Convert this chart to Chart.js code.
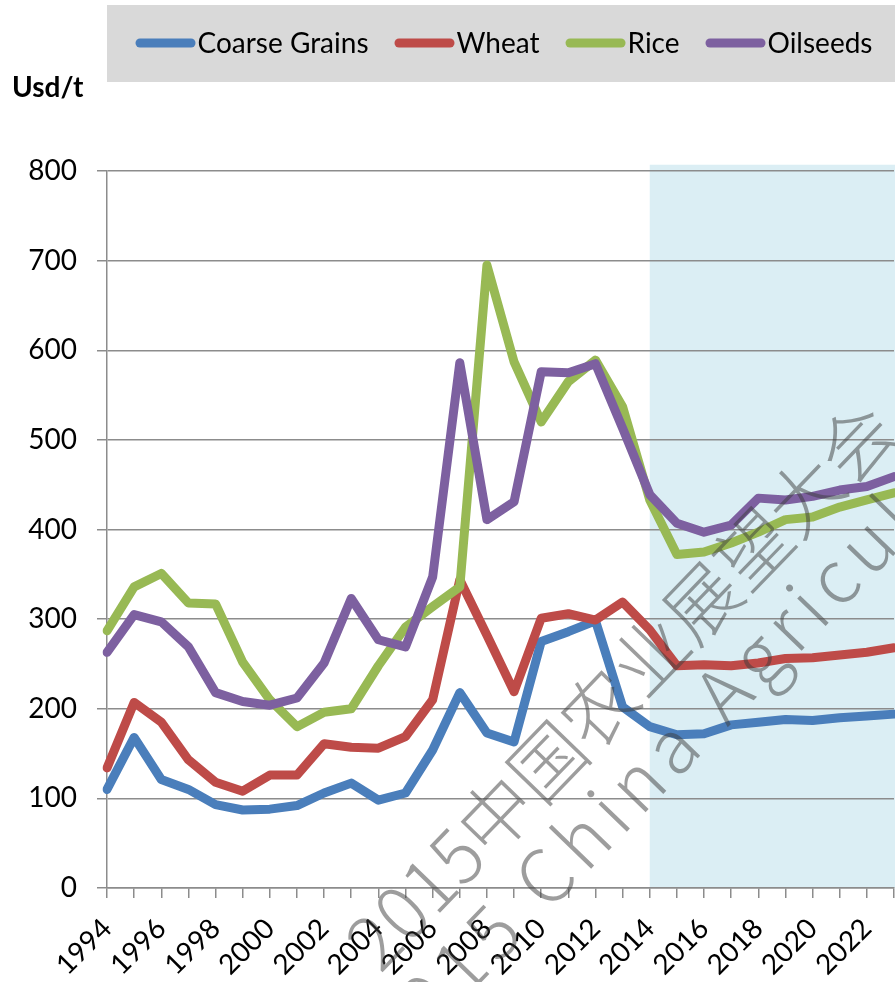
<!DOCTYPE html>
<html>
<head>
<meta charset="utf-8">
<script src="https://cdn.jsdelivr.net/npm/chart.js@4.4.1/dist/chart.umd.min.js"></script>
<style>
  html, body { margin: 0; padding: 0; background: #ffffff; }
  #wrap { width: 895px; height: 982px; position: relative; }
</style>
</head>
<body>
<div id="wrap"><canvas id="chart" width="895" height="982"></canvas></div>
<script>
// ---- data ----
const years = ['1994','1995','1996','1997','1998','1999','2000','2001','2002','2003',
               '2004','2005','2006','2007','2008','2009','2010','2011','2012','2013',
               '2014','2015','2016','2017','2018','2019','2020','2021','2022','2023'];
const coarseGrains = [110,168,121,110,93,87,88,92,106,117,98,106,154,218,173,163,275,286,298,202,180,171,172,182,185,188,187,190,192,194];
const wheat        = [134,207,185,143,118,108,126,126,161,157,156,169,210,344,282,219,301,306,299,319,288,248,249,248,251,256,257,260,263,268];
const rice         = [287,336,351,318,317,252,210,180,196,200,248,291,314,336,695,587,520,565,589,537,433,372,375,385,397,411,414,425,433,441];
const oilseeds     = [263,305,297,269,218,208,204,212,251,323,277,269,347,586,411,431,576,575,585,513,439,407,397,405,435,433,437,444,448,459];
const seriesNames  = ['Coarse Grains','Wheat','Rice','Oilseeds'];
const yUnit        = 'Usd/t';
const projectionStart = '2014';   // shaded outlook period starts here
const projectionTop   = 807;      // top of the shaded band (value units)
const watermarkLine1  = '2015中国农业展望大会';
const watermarkLine2  = '2015 China Agricultural Outlook Conference';

const FONT = 'Lato, "Open Sans", "Liberation Sans", sans-serif';
const AXIS = '#8c8c8c';
const colors = ['#4a7ebb', '#be4b48', '#98b954', '#7d60a0'];

const shadePlugin = {
  id: 'shade',
  beforeDraw(chart) {
    const {ctx, scales} = chart;
    const x0 = scales.x.getPixelForValue(years.indexOf(projectionStart));
    const yTop = scales.y.getPixelForValue(projectionTop);
    const yBot = scales.y.getPixelForValue(0);
    ctx.save();
    ctx.fillStyle = '#dbeef4';
    ctx.fillRect(x0, yTop, chart.width - x0, yBot - yTop);
    ctx.restore();
  }
};

const legendPlugin = {
  id: 'boxLegend',
  afterDraw(chart) {
    const {ctx} = chart;
    ctx.save();
    ctx.fillStyle = '#d9d9d9';
    ctx.fillRect(107, 5, chart.width - 107, 77);
    ctx.font = '28px ' + FONT;
    ctx.textBaseline = 'alphabetic';
    const sw = 60, gapText = 2, gapItem = 26;
    const ds = chart.data.datasets;
    let total = 0;
    ds.forEach((d, i) => {
      total += sw + gapText + ctx.measureText(d.label).width + (i < ds.length - 1 ? gapItem : 0);
    });
    let x = (107 + chart.width) / 2 - total / 2 + 3;
    const yMid = 43, base = 53;
    ds.forEach(d => {
      ctx.strokeStyle = d.borderColor;
      ctx.lineWidth = 9;
      ctx.lineCap = 'round';
      ctx.beginPath();
      ctx.moveTo(x + 4.5, yMid);
      ctx.lineTo(x + sw - 4.5, yMid);
      ctx.stroke();
      ctx.fillStyle = '#000';
      ctx.fillText(d.label, x + sw + gapText, base);
      x += sw + gapText + ctx.measureText(d.label).width + gapItem;
    });
    ctx.font = 'bold 28px ' + FONT;
    ctx.fillText(yUnit, 12, 97);
    ctx.restore();
  }
};

const watermarkPlugin = {
  id: 'watermark',
  afterDraw(chart) {
    const {ctx} = chart;
    ctx.save();
    ctx.translate(650, 655);
    ctx.rotate(-46 * Math.PI / 180);
    ctx.fillStyle = 'rgba(60,60,60,0.5)';
    ctx.textBaseline = 'middle';
    ctx.textAlign = 'left';
    ctx.font = '300 74px "Noto Sans CJK SC", sans-serif';
    const pre1 = ctx.measureText('2015中国农').width + ctx.measureText('业').width / 2;
    ctx.fillText(watermarkLine1, -pre1, 0);
    ctx.letterSpacing = '8px';
    const pre2 = ctx.measureText('2015 China ').width + ctx.measureText('A').width / 2;
    ctx.fillText(watermarkLine2, 27 - pre2, 78);
    ctx.restore();
  }
};

new Chart(document.getElementById('chart'), {
  type: 'line',
  data: {
    labels: years,
    datasets: [
      { label: seriesNames[0], data: coarseGrains, borderColor: colors[0], backgroundColor: colors[0], order: 4 },
      { label: seriesNames[1], data: wheat,        borderColor: colors[1], backgroundColor: colors[1], order: 3 },
      { label: seriesNames[2], data: rice,         borderColor: colors[2], backgroundColor: colors[2], order: 2 },
      { label: seriesNames[3], data: oilseeds,     borderColor: colors[3], backgroundColor: colors[3], order: 1 }
    ]
  },
  options: {
    responsive: false,
    animation: false,
    devicePixelRatio: 1,
    layout: { padding: { top: 171, right: 1, bottom: 0, left: 0 } },
    elements: {
      line: { borderWidth: 9, tension: 0, borderCapStyle: 'round', borderJoinStyle: 'round', fill: false },
      point: { radius: 0, hoverRadius: 0 }
    },
    plugins: { legend: { display: false }, tooltip: { enabled: false }, title: { display: false } },
    scales: {
      x: {
        type: 'category',
        offset: false,
        grid: { drawOnChartArea: false, drawTicks: true, tickLength: 10, color: AXIS, lineWidth: 1.5 },
        border: { color: AXIS, width: 1.5 },
        ticks: {
          autoSkip: false, minRotation: 45, maxRotation: 45, padding: 14,
          color: '#000', font: { family: FONT, size: 28 },
          callback: (v, i) => (i % 2 === 0 ? years[i] : '')
        },
        afterFit: s => { s.height = 94; s.paddingRight = 0; s.paddingLeft = 0; }
      },
      y: {
        min: 0, max: 800,
        ticks: { stepSize: 100, padding: 20, color: '#000', font: { family: FONT, size: 28 } },
        grid: { color: AXIS, lineWidth: 1.5, tickLength: 10 },
        border: { color: AXIS, width: 1.5 },
        afterFit: s => { s.width = 107; s.paddingTop = 0; s.paddingBottom = 0; }
      }
    }
  },
  plugins: [shadePlugin, legendPlugin, watermarkPlugin]
});
</script>
</body>
</html>
